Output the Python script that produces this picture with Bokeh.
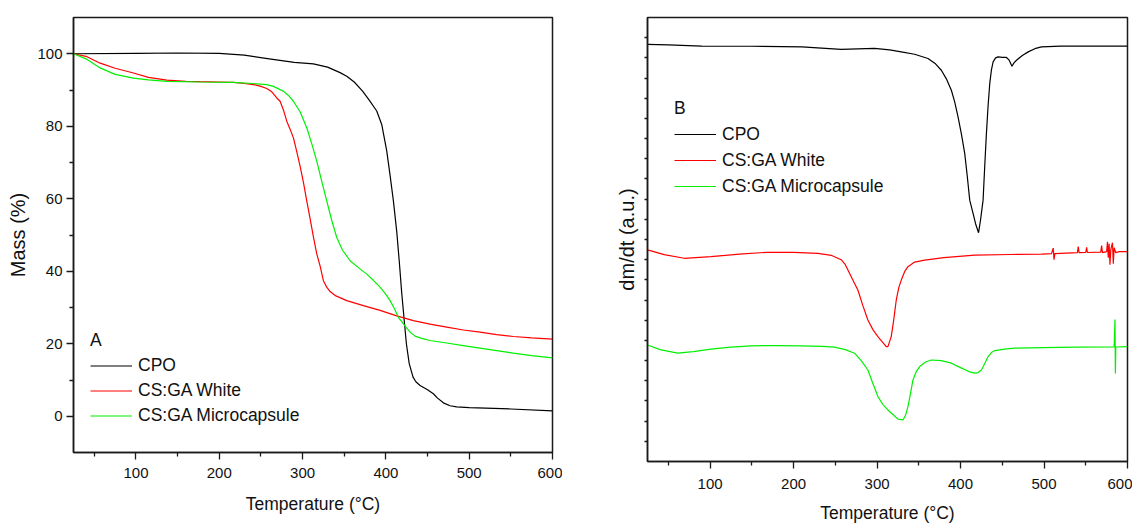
from bokeh.plotting import figure
from bokeh.layouts import row
from bokeh.models import FixedTicker, Legend, LegendItem, Range1d
from bokeh.embed import file_html
from bokeh.resources import INLINE

FONT = "Liberation Sans"

# ---------------- Panel A : TGA (Mass %) ----------------
tga_cpo_t = [25, 100, 150, 200, 230, 260, 290, 313, 330, 345, 353, 362, 372, 380, 389, 395, 401, 405, 409,
             413, 416, 419, 421, 424.6, 428, 432.6, 436, 441, 450, 457, 462, 469, 477, 485, 500, 550, 600]
tga_cpo_m = [100, 100.1, 100.2, 100.1, 99.6, 98.6, 97.6, 97.2, 96.3, 94.8, 93.8, 92.2, 89.7, 87.2, 84.2, 80.5,
             73.2, 66.5, 59.4, 51, 42.9, 34, 29, 20, 14.5, 10.8, 9.5, 8.5, 7.3, 6.2, 5.0, 3.7, 2.9, 2.6, 2.4, 2.0, 1.5]

tga_white_t = [25, 40, 57, 75, 97, 115, 137, 160, 177, 200, 217, 230, 241, 250, 257, 263, 269, 273, 277, 281,
               285, 289, 293, 297, 301, 305, 309, 313, 317, 321, 325, 329, 333, 340, 353, 373, 393, 413, 433,
               453, 473, 493, 513, 533, 553, 575, 600]
tga_white_m = [100, 99.3, 97.4, 96, 94.7, 93.5, 92.7, 92.4, 92.3, 92.2, 92.1, 91.8, 91.5, 91, 90.4, 89.5, 87.8,
               86.9, 84.5, 81.4, 79.2, 76.8, 73, 69, 64.5, 59.4, 54.5, 49.5, 44.8, 41.5, 37.4, 35.6, 34.4, 33.2,
               31.9, 30.5, 29.2, 27.7, 26.4, 25.4, 24.6, 23.8, 23.2, 22.5, 22, 21.6, 21.3]

tga_micro_t = [25, 40, 57, 75, 97, 115, 137, 177, 217, 240, 257, 265, 273, 277, 283, 289, 297, 305, 311, 317,
               323, 329, 335, 341, 348, 357, 367, 377, 385, 393, 400, 405, 410, 415, 420, 425, 430, 435, 443,
               453, 473, 493, 513, 533, 553, 575, 600]
tga_micro_m = [100, 98.6, 96.1, 94.3, 93.3, 92.8, 92.4, 92.2, 92.1, 91.8, 91.5, 91, 90.1, 89.7, 88.5, 86.9, 84,
               79.6, 75.2, 70.4, 64.8, 59.4, 54, 49.3, 45.8, 42.9, 41.0, 39.2, 37.5, 35.6, 33.6, 31.9, 29.8, 27.3,
               25.8, 24.3, 23, 22.1, 21.5, 20.9, 20.2, 19.5, 18.8, 18.1, 17.4, 16.7, 16.1]

# ---------------- Panel B : DTG (dm/dt, a.u.) ----------------
dtg_cpo_t = [25, 50, 90, 150, 210, 257, 297, 315, 329, 345, 361, 370, 377, 383, 389, 393, 397, 401, 405, 408,
             411, 415, 418, 421.6, 424, 427, 429, 431, 433, 435, 437, 439, 442, 445, 450, 455, 458, 461.6, 464,
             467, 474, 481, 489, 497, 520, 560, 600]
dtg_cpo_v = [20.88, 20.85, 20.79, 20.78, 20.75, 20.62, 20.67, 20.6, 20.5, 20.38, 20.17, 19.9, 19.58, 19.15,
             18.58, 18.0, 17.25, 16.4, 15.42, 14.3, 13.08, 12.42, 11.9, 11.45, 12.1, 13.08, 14.8, 16.42, 17.8,
             18.92, 19.6, 20.0, 20.2, 20.25, 20.22, 20.22, 20.1, 19.78, 19.95, 20.08, 20.32, 20.5, 20.66, 20.75,
             20.79, 20.79, 20.79]

dtg_white_t = [25, 45, 69, 101, 135, 169, 200, 229, 245, 257, 262, 267, 272, 277, 283, 289, 295, 301, 306, 311,
               313, 315, 317, 320, 323, 326, 329, 333, 337, 345, 357, 380, 417, 460, 497, 509, 511, 512, 513,
               540, 541, 542, 550, 551, 552, 568, 569, 570, 575, 576, 577, 578, 579, 580, 582, 583, 584, 586,
               590, 600]
dtg_white_v = [10.59, 10.35, 10.17, 10.25, 10.38, 10.47, 10.47, 10.42, 10.32, 10.1, 9.85, 9.42, 9.0, 8.58, 7.8,
               7.08, 6.6, 6.25, 6.0, 5.75, 5.75, 6.0, 6.25, 7.1, 8.08, 8.7, 9.08, 9.5, 9.75, 9.98, 10.08, 10.2,
               10.33, 10.36, 10.38, 10.4, 10.68, 10.1, 10.4, 10.45, 10.75, 10.45, 10.46, 10.72, 10.46, 10.48,
               10.8, 10.45, 10.5, 11.0, 10.2, 10.9, 9.85, 10.6, 10.95, 9.9, 10.7, 10.45, 10.5, 10.5]

dtg_micro_t = [25, 40, 61, 80, 101, 125, 149, 180, 209, 235, 249, 262, 273, 281, 289, 295, 301, 307, 313, 319,
               325, 331, 334, 337, 340, 343, 347, 351, 358, 365, 377, 389, 400, 410, 417, 421, 425, 429, 433,
               437, 441, 453, 465, 500, 537, 584, 585, 585.5, 586, 600]
dtg_micro_v = [5.83, 5.6, 5.42, 5.5, 5.62, 5.72, 5.79, 5.8, 5.79, 5.76, 5.72, 5.6, 5.42, 5.05, 4.58, 3.9, 3.25,
               2.85, 2.58, 2.35, 2.12, 2.08, 2.3, 2.75, 3.4, 4.08, 4.5, 4.75, 4.98, 5.08, 5.05, 4.92, 4.7, 4.5,
               4.42, 4.45, 4.58, 4.9, 5.25, 5.45, 5.55, 5.62, 5.67, 5.7, 5.72, 5.73, 7.1, 4.4, 5.73, 5.75]

series_labels = ["CPO", "CS:GA White", "CS:GA Microcapsule"]
series_colors = ["#000000", "#ff0000", "#00f000"]
x_major = [100, 200, 300, 400, 500, 600]
x_minor = [50, 150, 250, 350, 450, 550]
y_major_a = [0, 20, 40, 60, 80, 100]
y_minor_a = [10, 30, 50, 70, 90]


def base_style(p):
    p.xgrid.visible = False
    p.ygrid.visible = False
    p.outline_line_color = "#1a1a1a"
    p.outline_line_width = 1.5
    p.background_fill_color = "white"
    p.border_fill_color = "white"
    for ax in (p.xaxis[0], p.yaxis[0]):
        ax.axis_line_width = 1.5
        ax.axis_line_color = "#1a1a1a"
        ax.major_tick_line_color = "#1a1a1a"
        ax.minor_tick_line_color = "#1a1a1a"
        ax.major_tick_line_width = 1.3
        ax.minor_tick_line_width = 1.3
        ax.major_tick_in = 0
        ax.minor_tick_in = 0
        ax.major_tick_out = 7
        ax.minor_tick_out = 4
        ax.major_label_text_font = FONT
        ax.major_label_text_font_size = "15px"
        ax.major_label_text_color = "#111111"
        ax.axis_label_text_font = FONT
        ax.axis_label_text_font_style = "normal"
        ax.axis_label_text_color = "#111111"
    p.xaxis[0].axis_label = "Temperature (°C)"
    p.xaxis[0].axis_label_text_font_size = "17.5px"
    p.xaxis[0].ticker = FixedTicker(ticks=x_major, minor_ticks=x_minor)


def make_legend(p, renderers, title, loc, pitch):
    items = [LegendItem(label=l, renderers=[r]) for l, r in zip(series_labels, renderers)]
    leg = Legend(items=items, location=loc, title=title,
                 title_text_font=FONT, title_text_font_size="17.5px", title_text_font_style="normal",
                 title_text_color="#111111", title_standoff=2,
                 label_text_font=FONT, label_text_font_size="17.5px", label_text_color="#111111",
                 glyph_width=42, glyph_height=pitch, label_height=pitch, spacing=0,
                 label_standoff=6, padding=0, margin=0,
                 border_line_color=None, background_fill_alpha=0)
    p.add_layout(leg)


# ---------- Figure A ----------
pa = figure(frame_width=479, frame_height=435, min_border_left=73, min_border_right=10,
            min_border_top=17, min_border_bottom=70,
            x_range=Range1d(25, 600), y_range=Range1d(-10, 110),
            output_backend="svg", toolbar_location=None)
base_style(pa)
pa.yaxis[0].ticker = FixedTicker(ticks=y_major_a, minor_ticks=y_minor_a)
pa.yaxis[0].axis_label = "Mass (%)"
pa.yaxis[0].axis_label_text_font_size = "20px"
pa.yaxis[0].major_label_standoff = 4
pa.yaxis[0].axis_label_standoff = 5
pa.xaxis[0].major_label_standoff = 8
pa.xaxis[0].axis_label_standoff = 13

ra = []
for xs, ys, c in zip([tga_cpo_t, tga_white_t, tga_micro_t], [tga_cpo_m, tga_white_m, tga_micro_m], series_colors):
    ra.append(pa.line(xs, ys, line_color=c, line_width=1.2))
make_legend(pa, ra, "A", (17, 24), 25)

# ---------- Figure B ----------
ymax_b = 22.22
pb = figure(frame_width=480, frame_height=444, min_border_left=85, min_border_right=5,
            min_border_top=17, min_border_bottom=66,
            x_range=Range1d(25, 600), y_range=Range1d(0, ymax_b),
            output_backend="svg", toolbar_location=None)
base_style(pb)
pb.yaxis[0].ticker = FixedTicker(ticks=[], minor_ticks=[k * ymax_b / 22 for k in range(1, 22)])
pb.yaxis[0].minor_tick_out = 3
pb.yaxis[0].major_tick_out = 3
pb.yaxis[0].major_label_standoff = 0
pb.yaxis[0].axis_label = "dm/dt (a.u.)"
pb.yaxis[0].axis_label_text_font_size = "20px"
pb.yaxis[0].axis_label_standoff = 7
pb.xaxis[0].major_label_standoff = 10
pb.xaxis[0].axis_label_standoff = 11

rb = []
for xs, ys, c in zip([dtg_cpo_t, dtg_white_t, dtg_micro_t], [dtg_cpo_v, dtg_white_v, dtg_micro_v], series_colors):
    rb.append(pb.line(xs, ys, line_color=c, line_width=1.2))
make_legend(pb, rb, "B", (27, 262), 26)

layout = row(pa, pb)
open("out.html", "w").write(file_html(layout, INLINE))
